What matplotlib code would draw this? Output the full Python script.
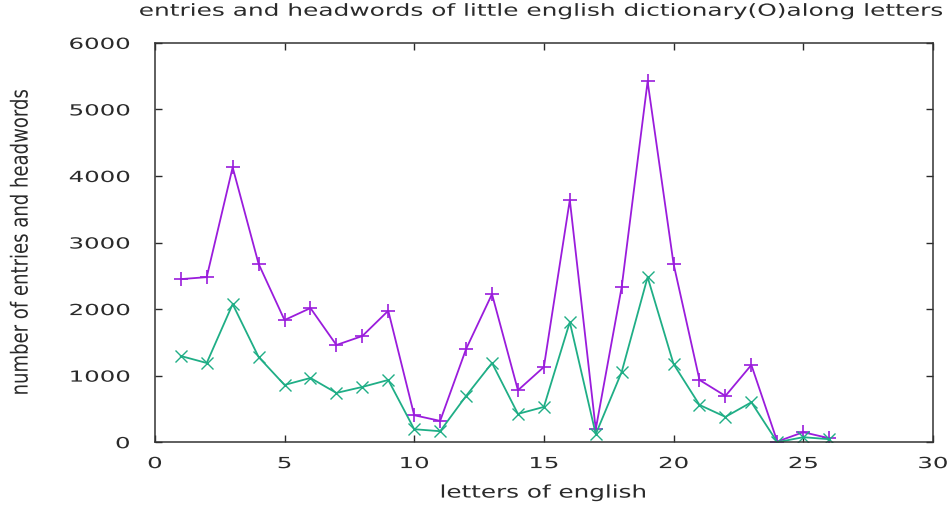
import numpy as np
import matplotlib
matplotlib.use('Agg')
import matplotlib.pyplot as plt
from matplotlib.patheffects import AbstractPathEffect
from matplotlib.transforms import Affine2D

letters = list(range(1, 27))
entries = [2450, 2480, 4130, 2680, 1835, 2015, 1460, 1595, 1975, 405,
           320, 1400, 2225, 780, 1130, 3640, 195, 2330, 5420, 2680,
           935, 695, 1160, 10, 150, 60]
headwords = [1295, 1190, 2075, 1280, 860, 965, 740, 830, 935, 195,
             165, 695, 1190, 425, 530, 1805, 120, 1055, 2480, 1175,
             560, 380, 600, 0, 75, 45]

xticks = [0, 5, 10, 15, 20, 25, 30]
yticks = [0, 1000, 2000, 3000, 4000, 5000, 6000]


# gnuplot picture was stretched sideways, so widen the glyphs the same way
class Stretch(AbstractPathEffect):
    def __init__(self, sx, anchor='center'):
        super().__init__()
        self.sx = sx
        self.anchor = anchor

    def draw_path(self, renderer, gc, tpath, affine, rgbFace=None):
        ext = tpath.get_extents(affine)
        if self.anchor == 'right':
            x0 = ext.x1
        elif self.anchor == 'left':
            x0 = ext.x0
        else:
            x0 = (ext.x0 + ext.x1) / 2
        tr = affine + Affine2D().translate(-x0, 0).scale(self.sx, 1).translate(x0, 0)
        renderer.draw_path(gc, tpath, tr, rgbFace)


plt.rcParams['font.family'] = 'DejaVu Sans'
txt = '#2a2a2a'
fig = plt.figure(figsize=(9.5, 5.1), dpi=100)
ax = fig.add_axes([0.163, 0.131, 0.819, 0.783])

ax.plot(letters, entries, color='#9a1cdc', lw=1.3, marker='+', ms=10, mew=1.2)
ax.plot(letters, headwords, color='#1fae86', lw=1.3, marker='x', ms=8, mew=1.0)

ax.set_xlim(0, 30)
ax.set_ylim(0, 6000)
ax.set_xticks(xticks)
ax.set_yticks(yticks)
ax.tick_params(direction='in', length=5, width=1, top=True, right=True,
               labelsize=11, colors=txt)
ax.tick_params(axis='x', pad=10)
ax.tick_params(axis='y', pad=18)
for s in ax.spines.values():
    s.set_color('#333333')
    s.set_linewidth(1.1)

for lab in ax.get_xticklabels():
    lab.set_path_effects([Stretch(1.6)])
for lab in ax.get_yticklabels():
    lab.set_path_effects([Stretch(1.6, 'right')])

xl = ax.set_xlabel('letters of english', fontsize=12.5, color=txt, labelpad=9)
xl.set_path_effects([Stretch(1.42)])
yl = ax.set_ylabel('number of entries and headwords', fontsize=13, color=txt)
ax.yaxis.set_label_coords(-0.161, 0.5)
yl.set_path_effects([Stretch(1.3)])
tt = ax.set_title('entries and headwords of little english dictionary(O)along letters',
                  fontsize=12, color=txt, pad=19.5, x=0.495)
tt.set_path_effects([Stretch(1.49)])

fig.savefig('out.png', dpi=100)
